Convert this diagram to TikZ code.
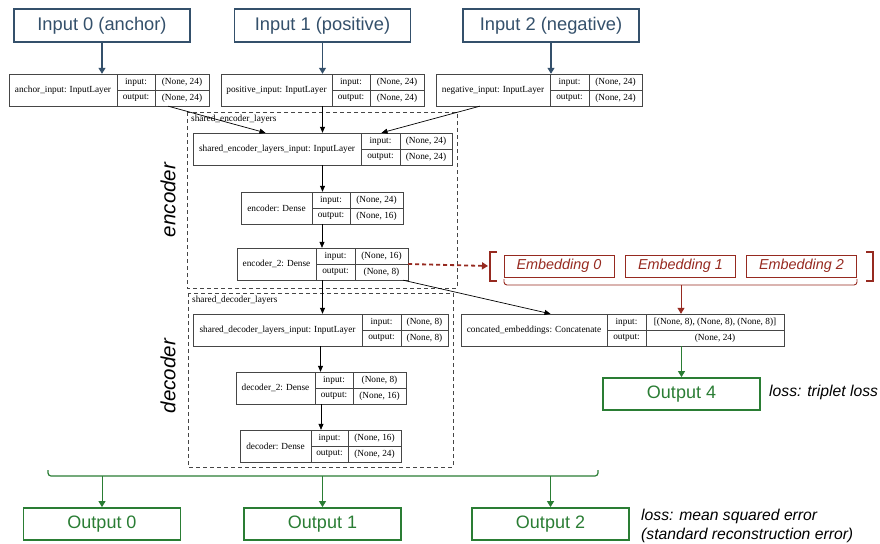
\documentclass[tikz,border=0pt]{standalone}
\usepackage{fontspec}
\setmainfont{Liberation Serif}
\setsansfont{Liberation Sans}
\usetikzlibrary{arrows.meta}
\usetikzlibrary{positioning, fit}
\definecolor{inblue}{RGB}{52,80,107}
\definecolor{outgreen}{RGB}{42,125,52}
\definecolor{embred}{RGB}{150,42,32}
\definecolor{kgray}{RGB}{70,70,70}
\tikzset{inbox/.style={draw=inblue,line width=1.8pt,text=inblue,minimum width=176pt,
minimum height=33pt,font=\sffamily\fontsize{18.3}{20}\selectfont}}
\tikzset{outbox/.style={draw=outgreen,line width=1.8pt,text=outgreen,minimum width=157pt,
minimum height=32pt,font=\sffamily\fontsize{18}{20}\selectfont}}
\tikzset{embbox/.style={draw=embred,line width=0.9pt,text=embred,minimum width=110pt,
minimum height=22pt,font=\sffamily\itshape\fontsize{14.4}{16}\selectfont}}
\tikzset{kname/.style={draw=kgray,line width=0.8pt,minimum height=32pt,inner sep=1pt,
outer sep=0pt,font=\fontsize{9.3}{11}\selectfont}}
\tikzset{kcell/.style={kname,minimum height=16pt}}
\tikzset{group/.style={draw=kgray,dash pattern=on 4pt off 3pt,line width=0.7pt}}
\tikzset{glabel/.style={anchor=west,inner sep=0pt,font=\fontsize{9.3}{11}\selectfont}}
\tikzset{side/.style={rotate=90,font=\sffamily\itshape\fontsize{20.5}{22}\selectfont}}
\tikzset{loss/.style={anchor=west,inner sep=0pt,align=left,
font=\sffamily\itshape\fontsize{15.7}{18.5}\selectfont}}
\tikzset{ka/.style={-{Triangle[length=6pt,width=5pt]},line width=0.7pt}}
\tikzset{ba/.style={-{Triangle[length=6pt,width=7pt]},draw=inblue,line width=1.2pt}}
\tikzset{ga/.style={-{Triangle[length=6pt,width=7pt]},draw=outgreen,line width=1pt}}
\tikzset{ra/.style={-{Triangle[length=6pt,width=7pt]},draw=embred,line width=1pt}}
\tikzset{rd/.style={ra,line width=1.8pt,dash pattern=on 4pt off 3pt}}
\tikzset{bracket/.style={draw=embred,line width=1.8pt}}
\newcommand{\klayer}[8]{%
\node [kname, minimum width=#4pt, anchor=north west] (#1n) at (#2) {#3};
\node [kcell, minimum width=#5pt, anchor=north west] (#1il) at (#1n.north east) {input:};
\node [kcell, minimum width=#5pt, below=0pt of #1il] (#1ol) {output:};
\node [kcell, minimum width=#6pt, right=0pt of #1il] (#1iv) {#7};
\node [kcell, minimum width=#6pt, right=0pt of #1ol] (#1ov) {#8};
\node [fit=(#1n)(#1ov), inner sep=0pt] (#1) {};}

\begin{document}
\begin{tikzpicture}[x=1pt, y=-1pt]
\useasboundingbox (0,0) rectangle (880,543);

\node [inbox] (ia) at (102,25.5) {Input 0 (anchor)};
\node [inbox] (ib) at (322.5,25.5) {Input 1 (positive)};
\node [inbox] (ic) at (551,25.5) {Input 2 (negative)};

\klayer{anc}{9,74}{anchor\_input: InputLayer}{108}{38}{54}{(None, 24)}{(None, 24)}
\klayer{pos}{221,74}{positive\_input: InputLayer}{111}{38}{54}{(None, 24)}{(None, 24)}
\klayer{neg}{436,74}{negative\_input: InputLayer}{114}{39}{53}{(None, 24)}{(None, 24)}

\draw [group] (187,112) rectangle (457,288);
\node [glabel] (eg) at (191,119) {shared\_encoder\_layers};
\klayer{sei}{193,133}{shared\_encoder\_layers\_input: InputLayer}{168}{39}{52}{(None, 24)}{(None, 24)}
\klayer{enc}{241,192}{encoder: Dense}{71}{38}{53}{(None, 24)}{(None, 16)}
\klayer{enct}{237,248}{encoder\_2: Dense}{79}{39}{53}{(None, 16)}{(None, 8)}

\draw [group] (188,293) rectangle (453,467);
\node [glabel] (dg) at (192,300) {shared\_decoder\_layers};
\klayer{sdi}{193,314}{shared\_decoder\_layers\_input: InputLayer}{169}{39}{47}{(None, 8)}{(None, 8)}
\klayer{dect}{236,372}{decoder\_2: Dense}{79}{38}{53}{(None, 8)}{(None, 16)}
\klayer{dec}{240,430}{decoder: Dense}{71}{37}{53}{(None, 16)}{(None, 24)}

\klayer{cat}{461,314}{concated\_embeddings: Concatenate}{146}{39}{138}{[(None, 8), (None, 8), (None, 8)]}{(None, 24)}

\node [side] (le) at (168,200) {encoder};
\node [side] (ld) at (168,376) {decoder};

\node [embbox] (ea) at (559,266) {Embedding 0};
\node [embbox] (eb) at (680.5,266) {Embedding 1};
\node [embbox] (ec) at (801.5,266) {Embedding 2};
\draw [bracket] (497,252) -- (490,252) -- (490,281) -- (497,281);
\draw [bracket] (866,252) -- (873,252) -- (873,281) -- (866,281);
\coordinate (lb) at (488,266);
\draw [draw=embred, line width=0.9pt, rounded corners=3pt] (504,279) -- (504,285) -- (857,285) -- (857,279);
\coordinate (et) at (681,285);

\node [outbox] (od) at (681.5,394) {Output 4};
\node [loss] (lt) at (769,392) {loss: triplet loss};

\draw [outgreen, line width=1.2pt, rounded corners=3pt] (48,470) -- (48,476) -- (598,476) -- (598,470);
\coordinate (bb) at (323,476);
\node [outbox] (oa) at (102,524) {Output 0};
\node [outbox] (ob) at (322.5,524) {Output 1};
\node [outbox] (oc) at (550.5,524) {Output 2};
\node [loss] (lm) at (641,526) {loss: mean squared error\\(standard reconstruction error)};

\draw [ba] (ia.south) -- (ia.south |- anc.north);
\draw [ba] (ib.south) -- (ib.south |- pos.north);
\draw [ba] (ic.south) -- (ic.south |- neg.north);
\draw [ka] ([xshift=-41pt]anc.south east) -- ([xshift=-57pt]sei.north);
\draw [ka] (pos.south) -- (sei.north);
\draw [ka] ([xshift=44pt]neg.south west) -- ([xshift=59pt]sei.north);
\draw [ka] (sei.south) -- (sei.south |- enc.north);
\draw [ka] (enc.south) -- (enc.south |- enct.north);
\draw [ka] (enct.south) -- (enct.south |- sdi.north);
\draw [ka] (sdi.south) -- (sdi.south |- dect.north);
\draw [ka] (dect.south) -- (dect.south |- dec.north);
\draw [ka] ([xshift=-5pt]enct.south east) -- ([xshift=-72pt]cat.north);
\draw [rd] (enct.east) -- (lb);
\draw [ra] (et) -- (et |- cat.north);
\draw [ga] (cat.south -| od.north) -- (od.north);
\draw [ga] (bb -| oa.north) -- (oa.north);
\draw [ga] (bb -| ob.north) -- (ob.north);
\draw [ga] (bb -| oc.north) -- (oc.north);
\end{tikzpicture}
\end{document}
